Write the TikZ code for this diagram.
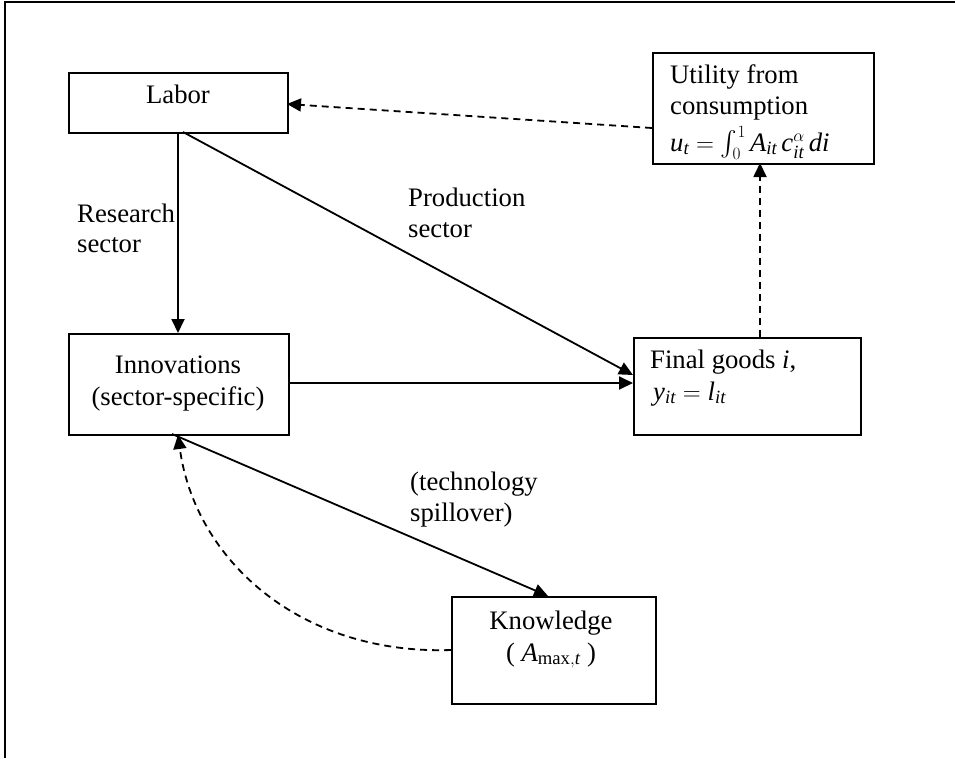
\documentclass[tikz,border=0pt]{standalone}
\usepackage{amsmath}
\usepackage{fontspec}
\setmainfont{Liberation Serif}
\usetikzlibrary{arrows.meta}
\begin{document}
\begin{tikzpicture}[x=1pt,y=-1pt,
  box/.style={draw, line width=1.8pt, rectangle, inner sep=0pt, anchor=north west},
  txt/.style={inner sep=0pt, font=\fontsize{26.7}{32}\selectfont},
  conn/.style={line width=1.8pt, -{Triangle[length=14pt,width=13pt]}},
  dconn/.style={conn, dash pattern=on 7pt off 5pt}]
\useasboundingbox (0,0) rectangle (955,758);
% outer frame (top and left only)
\draw[line width=1.4pt] (5,758) -- (5,2) -- (955,2);
% boxes
\node[box, minimum width=219pt, minimum height=60pt] (labor) at (68,72) {};
\node[box, minimum width=221pt, minimum height=111pt] (util) at (652,52) {};
\node[box, minimum width=220pt, minimum height=101pt] (innov) at (68,333) {};
\node[box, minimum width=227pt, minimum height=97pt] (final) at (633,337) {};
\node[box, minimum width=204pt, minimum height=107pt] (know) at (451,596) {};
% box texts
\node[txt, anchor=base] (laborT) at (178,103) {Labor};
\node[txt, anchor=base west] (utilT1) at (670,83) {Utility from};
\node[txt, anchor=base west] (utilT2) at (670,114) {consumption};
\node[txt, anchor=base west] (utilT3) at (670,151) {$\mathit{u}_{\mathit{t}}=\int_0^1\mathit{A}_{\mathit{it}}\,\mathit{c}_{\mathit{it}}^{\alpha}\,\mathit{di}$};
\node[txt, anchor=base] (innovT1) at (178,373) {Innovations};
\node[txt, anchor=base] (innovT2) at (178,405) {(sector-specific)};
\node[txt, anchor=base west] (finalT1) at (650,368) {Final goods \textit{i},};
\node[txt, anchor=base west] (finalT2) at (653,400) {$\mathit{y}_{\mathit{it}}=\mathit{l}_{\mathit{it}}$};
\node[txt, anchor=base] (knowT1) at (551,629) {Knowledge};
\node[txt, anchor=base] (knowT2) at (551,661) {( $\mathit{A}_{\mathrm{max},\mathit{t}}$ )};
% edge labels
\node[txt, anchor=base west] (resL1) at (77,222) {Research};
\node[txt, anchor=base west] (resL2) at (77,252) {sector};
\node[txt, anchor=base west] (prodL1) at (408,206) {Production};
\node[txt, anchor=base west] (prodL2) at (408,237) {sector};
\node[txt, anchor=base west] (techL1) at (410,490) {(technology};
\node[txt, anchor=base west] (techL2) at (410,521) {spillover)};
% coordinates on box borders
\coordinate (laborB) at (178,132);
\coordinate (innovT) at (178,333);
\coordinate (laborBR) at (183,132);
\coordinate (finalL1) at (633,375);
\coordinate (innovR) at (288,383);
\coordinate (finalL2) at (633,383);
\coordinate (innovBR) at (172,434);
\coordinate (knowT) at (548,596);
\coordinate (knowL) at (451,650);
\coordinate (innovB) at (178,435);
\coordinate (utilL) at (652,128);
\coordinate (laborR) at (287,104);
\coordinate (finalT) at (760,337);
\coordinate (utilB) at (760,163);
% connectors
\draw[conn] (laborB) -- (innovT);
\draw[conn] (laborBR) -- (finalL1);
\draw[conn] (innovR) -- (finalL2);
\draw[conn] (innovBR) -- (knowT);
\draw[dconn] (utilL) -- (laborR);
\draw[dconn] (finalT) -- (utilB);
\draw[dconn] (knowL) .. controls (300,655) and (195,560) .. (innovB);
\end{tikzpicture}
\end{document}
